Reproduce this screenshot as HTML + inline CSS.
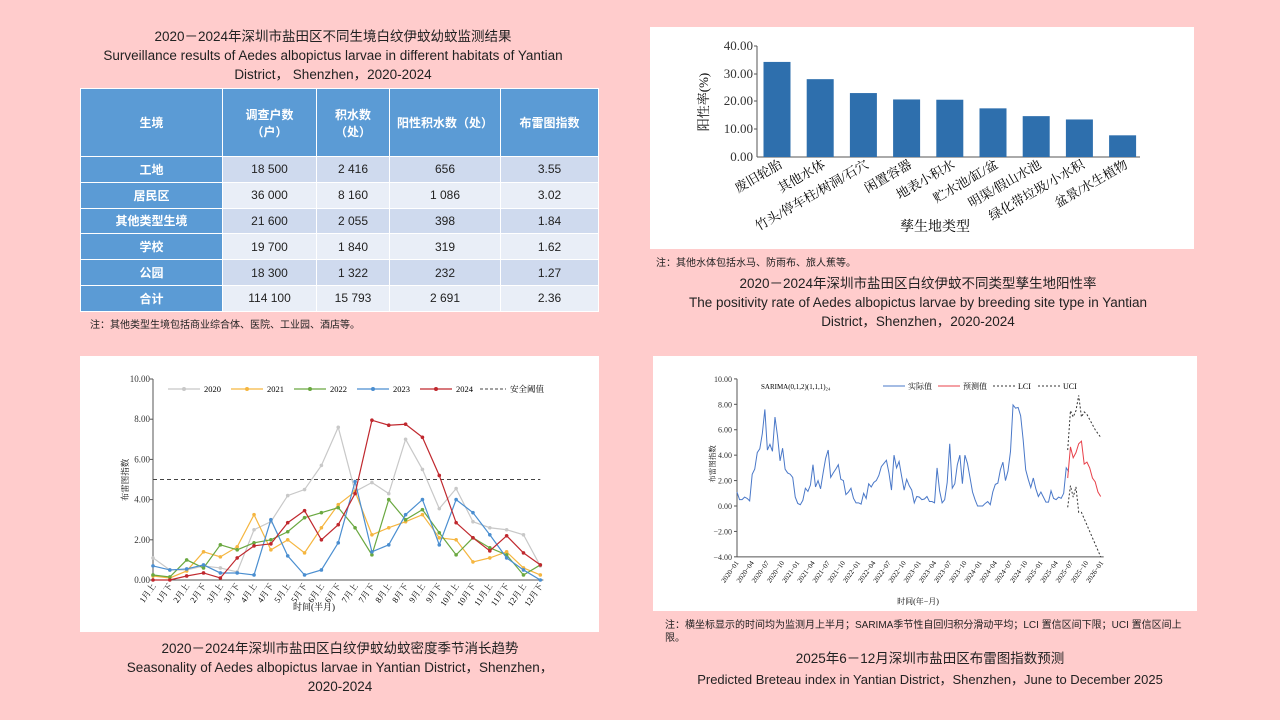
<!DOCTYPE html>
<html><head><meta charset="utf-8">
<style>
body{margin:0;width:1280px;height:720px;background:#ffcccc;position:relative;overflow:hidden;font-family:"Liberation Sans","Noto Sans CJK SC",sans-serif;color:#222}
.t{position:absolute;text-align:center;font-size:13.5px;line-height:19px;white-space:nowrap}
.n{position:absolute;font-size:10px;white-space:nowrap}
table{position:absolute;left:80px;top:88px;width:519px;border-collapse:collapse;font-size:12px}
td{border:1px solid #fff;text-align:center;height:24.8px;padding:0}
tr.h td{background:#5b9bd5;color:#fff;font-weight:bold;height:67px}
tr.a td{background:#cfdaee}tr.b td{background:#e9eef7}
tr td.f{background:#5b9bd5;color:#fff;font-weight:bold}
svg text{font-family:"Liberation Serif","Noto Serif CJK SC",serif}
</style></head><body>
<div class="t" style="left:70px;width:526px;top:27px">2020－2024年深圳市盐田区不同生境白纹伊蚊幼蚊监测结果<br>Surveillance results of Aedes albopictus larvae in different habitats of Yantian<br>District， Shenzhen，2020-2024</div>
<table>
<tr class="h"><td style="width:141px">生境</td><td style="width:93px">调查户数<br>（户）</td><td style="width:72px">积水数<br>（处）</td><td style="width:110px">阳性积水数（处）</td><td>布雷图指数</td></tr>
<tr class="a"><td class="f">工地</td><td>18 500</td><td>2 416</td><td>656</td><td>3.55</td></tr>
<tr class="b"><td class="f">居民区</td><td>36 000</td><td>8 160</td><td>1 086</td><td>3.02</td></tr>
<tr class="a"><td class="f">其他类型生境</td><td>21 600</td><td>2 055</td><td>398</td><td>1.84</td></tr>
<tr class="b"><td class="f">学校</td><td>19 700</td><td>1 840</td><td>319</td><td>1.62</td></tr>
<tr class="a"><td class="f">公园</td><td>18 300</td><td>1 322</td><td>232</td><td>1.27</td></tr>
<tr class="b"><td class="f">合计</td><td>114 100</td><td>15 793</td><td>2 691</td><td>2.36</td></tr>
</table>
<div class="n" style="left:90px;top:316px">注：其他类型生境包括商业综合体、医院、工业园、酒店等。</div>

<svg style="position:absolute;left:650px;top:27px" width="544" height="222">
<rect width="544" height="222" fill="#fff"/>
<g font-size="13" text-anchor="end" fill="#333">
<text x="103" y="23">40.00</text><text x="103" y="51">30.00</text><text x="103" y="78">20.00</text><text x="103" y="106">10.00</text><text x="103" y="134">0.00</text></g>
<line x1="107" y1="19" x2="107" y2="130" stroke="#555"/><line x1="107" y1="130" x2="490" y2="130" stroke="#555"/>
<g stroke="#555"><line x1="104" y1="19" x2="107" y2="19"/><line x1="104" y1="47" x2="107" y2="47"/><line x1="104" y1="74" x2="107" y2="74"/><line x1="104" y1="102" x2="107" y2="102"/></g>
<text x="58" y="75" font-size="13" transform="rotate(-90 58 75)" text-anchor="middle">阳性率(%)</text>
<g fill="#2e6fad" id="bars"></g>
<g font-size="13" text-anchor="end" id="bl"></g>
<text x="285" y="204" font-size="14" text-anchor="middle">孳生地类型</text>
</svg>
<div class="n" style="left:656px;top:254px">注：其他水体包括水马、防雨布、旅人蕉等。</div>
<div class="t" style="left:640px;width:556px;top:274px">2020－2024年深圳市盐田区白纹伊蚊不同类型孳生地阳性率<br>The positivity rate of Aedes albopictus larvae by breeding site type in Yantian<br>District，Shenzhen，2020-2024</div>

<svg style="position:absolute;left:80px;top:356px" width="519" height="276" id="s1">
<rect width="519" height="276" fill="#fff"/>
</svg>
<div class="t" style="left:80px;width:520px;top:639px">2020－2024年深圳市盐田区白纹伊蚊幼蚊密度季节消长趋势<br>Seasonality of Aedes albopictus larvae in Yantian District，Shenzhen，<br>2020-2024</div>

<svg style="position:absolute;left:653px;top:356px" width="544" height="255" id="s2">
<rect width="544" height="255" fill="#fff"/>
</svg>
<div class="n" style="left:665px;top:619px;width:535px;white-space:normal;line-height:13px">注：横坐标显示的时间均为监测月上半月；SARIMA季节性自回归积分滑动平均；LCI 置信区间下限；UCI 置信区间上限。</div>
<div class="t" style="left:660px;width:540px;top:649px">2025年6－12月深圳市盐田区布雷图指数预测<br><span style="font-size:13px;line-height:24px">Predicted Breteau index in Yantian District，Shenzhen，June to December 2025</span></div>

<script>
var NS="http://www.w3.org/2000/svg";
function el(p,t,a,txt){var e=document.createElementNS(NS,t);for(var k in a)e.setAttribute(k,a[k]);if(txt!=null)e.textContent=txt;p.appendChild(e);return e;}
var bv=[34.2,28,23,20.7,20.6,17.5,14.7,13.5,7.8];
var bn=["废旧轮胎","其他水体","竹头/停车柱/树洞/石穴","闲置容器","地表小积水","贮水池/缸/盆","明渠/假山水池","绿化带垃圾/小水积","盆景/水生植物"];
var bg=document.getElementById("bars"),bl=document.getElementById("bl");
for(var i=0;i<9;i++){var cx=127+i*43.2,h=bv[i]*2.78;el(bg,"rect",{x:cx-13.5,y:130-h,width:27,height:h});
el(bl,"text",{x:cx+6,y:140,transform:"rotate(-30 "+(cx+6)+" 140)"},bn[i]);}
var s1=document.getElementById("s1");
var X0=73,Y0=224,ST=16.84,SY=20.1;
function px(i){return X0+i*ST} function py(v){return Y0-v*SY}
for(var k=0;k<=10;k+=2){el(s1,"text",{x:70,y:py(k)+3,"font-size":9,"text-anchor":"end",fill:"#333"},k.toFixed(2));el(s1,"line",{x1:X0-3,y1:py(k),x2:X0,y2:py(k),stroke:"#555"});}
el(s1,"line",{x1:X0,y1:py(10),x2:X0,y2:Y0,stroke:"#555"});el(s1,"line",{x1:X0,y1:Y0,x2:X0+23*ST+3,y2:Y0,stroke:"#555"});
el(s1,"line",{x1:X0,y1:py(5),x2:X0+23*ST,y2:py(5),stroke:"#444","stroke-dasharray":"4,3"});
var D={"#c8c8c8":[1.1,0.5,0.5,0.7,0.6,0.4,2.5,2.9,4.2,4.5,5.7,7.6,4.4,4.85,4.3,7.0,5.5,3.55,4.55,2.9,2.6,2.5,2.25,0.7],
"#f5b640":[0.2,0.1,0.45,1.4,1.15,1.65,3.25,1.5,2.0,1.35,2.6,3.75,4.4,2.25,2.6,2.9,3.25,2.1,2.0,0.9,1.1,1.4,0.6,0.25],
"#6aa840":[0.25,0.15,1.0,0.6,1.75,1.5,1.85,2.0,2.4,3.1,3.35,3.6,2.6,1.25,4.0,3.0,3.5,2.35,1.25,2.1,1.6,1.25,0.25,0.75],
"#4a8ed0":[0.7,0.5,0.55,0.75,0.35,0.35,0.25,3.0,1.2,0.25,0.5,1.85,4.9,1.4,1.75,3.25,4.0,1.75,4.0,3.35,2.25,1.1,0.5,0.0],
"#c0282e":[0,0,0.2,0.35,0.1,1.1,1.7,1.8,2.85,3.45,2.0,2.75,4.3,7.95,7.7,7.75,7.1,5.2,2.85,2.1,1.45,2.2,1.35,0.75]};
var cols=Object.keys(D),yrs=["2020","2021","2022","2023","2024"];
cols.forEach(function(c,j){var a=D[c];el(s1,"polyline",{points:a.map(function(v,i){return px(i)+","+py(v)}).join(" "),fill:"none",stroke:c,"stroke-width":1.2});
a.forEach(function(v,i){el(s1,"circle",{cx:px(i),cy:py(v),r:1.8,fill:c})});
var lx=88+j*63;el(s1,"line",{x1:lx,y1:33,x2:lx+32,y2:33,stroke:c,"stroke-width":1.2});el(s1,"circle",{cx:lx+16,cy:33,r:2,fill:c});
el(s1,"text",{x:lx+36,y:36,"font-size":8.5},yrs[j]);});
el(s1,"line",{x1:400,y1:33,x2:426,y2:33,stroke:"#444","stroke-dasharray":"3,2"});el(s1,"text",{x:430,y:36,"font-size":8.5},"安全阈值");
for(var i=0;i<24;i++){var lab=(Math.floor(i/2)+1)+"月"+(i%2?"下":"上");el(s1,"text",{x:px(i)+3,y:Y0+6,"font-size":8.5,"text-anchor":"end",transform:"rotate(-55 "+(px(i)+3)+" "+(Y0+6)+")"},lab);}
el(s1,"text",{x:234,y:254,"font-size":9,"text-anchor":"middle"},"时间(半月)");
el(s1,"text",{x:48,y:124,"font-size":8.5,"text-anchor":"middle",transform:"rotate(-90 48 124)"},"布雷图指数");
var s2=document.getElementById("s2");
var AX=84,AY0=150,SU=12.71,MS=5.065;
function qy(v){return AY0-v*SU}
el(s2,"line",{x1:AX,y1:qy(10),x2:AX,y2:qy(-4),stroke:"#555"});el(s2,"line",{x1:AX,y1:qy(-4),x2:AX+72*MS+2,y2:qy(-4),stroke:"#555"});
for(var v=-4;v<=10;v+=2){el(s2,"line",{x1:AX-3,y1:qy(v),x2:AX,y2:qy(v),stroke:"#555"});el(s2,"text",{x:AX-5,y:qy(v)+3,"font-size":8,"text-anchor":"end",fill:"#333"},(v<0?"−":"")+Math.abs(v).toFixed(2));}
var act=[];yrs.forEach(function(y,j){act=act.concat(D[cols[j]])});
act=act.concat([1.1,0.7,0.3,0.3,1.2,0.6,0.5,0.7,0.6,1.0,3.0,2.7]);
el(s2,"polyline",{points:act.map(function(v,i){return (AX+i*MS/2)+","+qy(v)}).join(" "),fill:"none",stroke:"#4a78c8","stroke-width":1});
var fx0=414.7,fs=2.75;
var pr=[2.2,4.65,3.8,4.2,4.9,5.1,3.3,3.45,3.0,2.2,1.9,1.1,0.75];
var uc=[4.4,7.5,7.0,7.5,8.7,7.0,7.4,7.2,6.8,6.4,6.0,5.7,5.4];
var lc=[-0.1,1.6,0.7,1.5,-0.5,-0.5,-1.0,-1.5,-2.0,-2.5,-3.0,-3.5,-4.0];
function pl(a,c,d){var o={points:a.map(function(v,i){return (fx0+i*fs)+","+qy(v)}).join(" "),fill:"none",stroke:c,"stroke-width":1};if(d)o["stroke-dasharray"]="2,2";el(s2,"polyline",o);}
pl(pr,"#e8414a");pl(uc,"#333",1);pl(lc,"#333",1);
var yl=["2020","2021","2022","2023","2024","2025","2026"],ms=["01","04","07","10"];
for(var m=0;m<=72;m+=3){var lab=yl[Math.floor(m/12)]+"−"+ms[(m%12)/3];var xx=AX+m*MS;el(s2,"text",{x:xx+2,y:qy(-4)+6,"font-size":7,"text-anchor":"end",transform:"rotate(-55 "+(xx+2)+" "+(qy(-4)+6)+")"},lab);}
el(s2,"text",{x:265,y:248,"font-size":8,"text-anchor":"middle"},"时间(年−月)");
el(s2,"text",{x:62,y:108,"font-size":7.5,"text-anchor":"middle",transform:"rotate(-90 62 108)"},"布雷图指数");
el(s2,"text",{x:108,y:33,"font-size":7},"SARIMA(0,1,2)(1,1,1)₂₄");
el(s2,"line",{x1:230,y1:30,x2:252,y2:30,stroke:"#4a78c8"});el(s2,"text",{x:255,y:33,"font-size":8},"实际值");
el(s2,"line",{x1:285,y1:30,x2:307,y2:30,stroke:"#e8414a"});el(s2,"text",{x:310,y:33,"font-size":8},"预测值");
el(s2,"line",{x1:340,y1:30,x2:362,y2:30,stroke:"#333","stroke-dasharray":"2,2"});el(s2,"text",{x:365,y:33,"font-size":8},"LCI");
el(s2,"line",{x1:385,y1:30,x2:407,y2:30,stroke:"#333","stroke-dasharray":"2,2"});el(s2,"text",{x:410,y:33,"font-size":8},"UCI");
</script>
</body></html>
